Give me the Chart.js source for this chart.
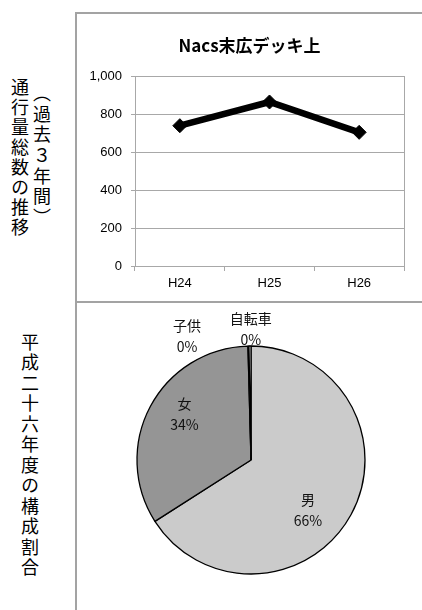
<!DOCTYPE html>
<html lang="ja">
<head>
  <meta charset="UTF-8">
  <title>Nacs末広デッキ上</title>
  <script src="https://cdn.jsdelivr.net/npm/chart.js"></script>
  <style>
    body { margin: 0; width: 422px; height: 610px; background: #fff; position: relative; overflow: hidden; font-family: "Noto Sans CJK JP", sans-serif; }
    .frame { position: absolute; background: #a3a3a3; }
    .vtext { position: absolute; writing-mode: vertical-rl; font-size: 18px; letter-spacing: 2px; color: #000; line-height: 1; white-space: nowrap; }
    canvas { position: absolute; }
  </style>
</head>
<body>

  <div class="frame" style="left:75px; top:12px; width:2px; height:598px;"></div>
  <div class="frame" style="left:75px; top:12px; width:347px; height:2px;"></div>
  <div class="frame" style="left:75px; top:301px; width:347px; height:2px;"></div>

  <div class="vtext" style="left:11px; top:78px;">通行量総数の推移</div>
  <div class="vtext" style="left:33px; top:84px; letter-spacing:2.7px;">（過去３年間）</div>
  <div class="vtext" style="left:21px; top:333px; letter-spacing:2.5px;">平成二十六年度の構成割合</div>

  <canvas id="linea" width="345" height="288" style="left:77px; top:14px;"></canvas>
  <canvas id="pastel" width="344" height="306" style="left:78px; top:304px;"></canvas>

  <script>
    // 通行量総数（過去3年間）
    const anios = ['H24', 'H25', 'H26'];
    const totales = [740, 865, 705];

    // 平成26年度の構成
    const grupos = ['男', '女', '子供', '自転車'];
    const cantidades = [465, 237, 1, 2];

    const gris = '#a8a8a8';
    const fuenteEje = { family: '"Liberation Sans", Arial, sans-serif', size: 13 };

    new Chart(document.getElementById('linea'), {
      type: 'line',
      data: {
        labels: anios,
        datasets: [{
          data: totales,
          borderColor: '#000',
          backgroundColor: '#000',
          borderWidth: 6.5,
          tension: 0,
          pointStyle: 'rectRot',
          pointRadius: 7,
          pointBorderWidth: 1,
          fill: false
        }]
      },
      options: {
        responsive: false,
        animation: false,
        layout: { padding: 0 },
        plugins: {
          legend: { display: false },
          tooltip: { enabled: false },
          title: {
            display: true,
            text: 'Nacs末広デッキ上',
            color: '#000',
            font: { family: '"Noto Sans CJK JP", sans-serif', size: 17, weight: 'bold', lineHeight: 1.2 },
            padding: { top: 21, bottom: 21 }
          }
        },
        scales: {
          x: {
            offset: true,
            grid: { offset: true, drawOnChartArea: false, color: gris, tickLength: 5 },
            border: { color: gris, width: 1 },
            ticks: { color: '#000', padding: 5, font: fuenteEje },
            afterFit(s) { s.height = 36; }
          },
          y: {
            min: 0,
            max: 1000,
            ticks: { stepSize: 200, color: '#000', padding: 9, font: fuenteEje },
            grid: { color: gris, tickLength: 4 },
            border: { color: gris, width: 1 },
            afterFit(s) { s.width = 58; }
          },
          // eje vacío a la derecha: sólo hace de borde del área de trazado
          derecha: {
            position: 'right',
            ticks: { display: false },
            grid: { drawOnChartArea: false, drawTicks: false },
            border: { color: gris, width: 1 },
            afterFit(s) { s.width = 18; }
          }
        }
      }
    });

    // ajustes finos de las etiquetas del pastel (estilo)
    const ajusteEtiqueta = [[-11, 13], [2, -9], [-61, 8], [1, 1]];

    const etiquetasPastel = {
      id: 'etiquetasPastel',
      afterDatasetsDraw(chart) {
        const ctx = chart.ctx;
        const datos = chart.data.datasets[0].data;
        const total = datos.reduce((s, v) => s + v, 0);
        const arcos = chart.getDatasetMeta(0).data;
        ctx.save();
        ctx.fillStyle = '#111';
        ctx.textAlign = 'center';
        ctx.textBaseline = 'middle';
        ctx.font = '14px "Noto Sans CJK JP", sans-serif';
        arcos.forEach((arc, i) => {
          const p = arc.getProps(['x', 'y', 'startAngle', 'endAngle', 'outerRadius'], true);
          const medio = (p.startAngle + p.endAngle) / 2;
          const pct = datos[i] / total;
          const r = pct > 0.05 ? p.outerRadius * 0.68 : p.outerRadius + 18;
          const cx = p.x + Math.cos(medio) * r + ajusteEtiqueta[i][0];
          const cy = p.y + Math.sin(medio) * r + ajusteEtiqueta[i][1];
          ctx.fillText(chart.data.labels[i], cx, cy - 10.5);
          ctx.fillText(Math.round(pct * 100) + '%', cx, cy + 10.5);
        });
        ctx.restore();
      }
    };

    new Chart(document.getElementById('pastel'), {
      type: 'pie',
      data: {
        labels: grupos,
        datasets: [{
          data: cantidades,
          backgroundColor: ['#cbcbcb', '#959595', '#ffffff', '#ffffff'],
          borderColor: '#000',
          borderWidth: 1.3
        }]
      },
      options: {
        responsive: false,
        animation: false,
        radius: 114,
        layout: { padding: { top: 6, left: 2, right: 0, bottom: 0 } },
        plugins: {
          legend: { display: false },
          tooltip: { enabled: false }
        }
      },
      plugins: [etiquetasPastel]
    });
  </script>

</body>
</html>
